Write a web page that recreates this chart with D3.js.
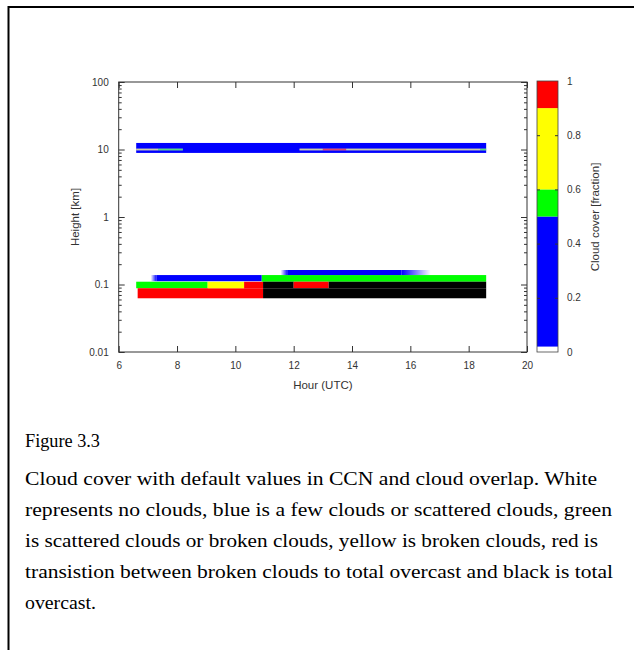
<!DOCTYPE html>
<html><head><meta charset="utf-8">
<script src="https://cdn.jsdelivr.net/npm/d3@7"></script>
<style>
body{margin:0;background:#fff;}
svg{display:block;}
.cap{font-family:"Liberation Serif","Times New Roman",serif;font-size:18px;fill:#000;}
.ax{font-family:"Liberation Sans",Arial,sans-serif;font-size:10px;fill:#333;}
.lab{font-family:"Liberation Sans",Arial,sans-serif;font-size:11.5px;fill:#333;}
</style>
</head><body>
<svg id="c" width="634" height="650"></svg>
<script>
// ---------- data ----------
const xTicks = [6, 8, 10, 12, 14, 16, 18, 20];
const yTicks = [0.01, 0.1, 1, 10, 100];
const yTickLabels = ["0.01", "0.1", "1", "10", "100"];
const cbTicks = [0, 0.2, 0.4, 0.6, 0.8, 1];
const cbTickLabels = ["0", "0.2", "0.4", "0.6", "0.8", "1"];
const cbBreaks = [0, 0.02, 0.5, 0.6, 0.9, 1];           // colour-bar class boundaries
const cbColors = ["#ffffff", "#0000ff", "#00ff00", "#ffff00", "#ff0000"];
const overcastColor = "#000000";                       // value >= 1 : total overcast

// cloud cells: start hour, end hour, bottom height (km), top height (km), cloud fraction
const cellStart  = [6.60, 6.60, 6.65, 9.05, 10.30, 10.90, 10.95, 7.30, 11.80, 12.00, 13.20, 10.95];
const cellEnd    = [18.60, 9.05, 10.95, 10.30, 10.95, 18.60, 12.00, 10.90, 15.70, 13.20, 18.60, 18.60];
const cellBottom = [8.9, 0.088, 0.0625, 0.088, 0.088, 0.110, 0.088, 0.112, 0.138, 0.088, 0.088, 0.0625];
const cellTop    = [12.5, 0.110, 0.088, 0.110, 0.110, 0.138, 0.110, 0.138, 0.164, 0.110, 0.110, 0.088];
const cellValue  = [0.30, 0.55, 0.95, 0.75, 0.95, 0.55, 1.00, 0.30, 0.30, 0.95, 1.00, 1.00];

// fading blue edges (value fades to no cloud): start, end, bottom, top, value, side that is cloudy
const fadeStart  = [7.10, 11.55, 15.70];
const fadeEnd    = [7.30, 11.80, 16.70];
const fadeBottom = [0.112, 0.138, 0.138];
const fadeTop    = [0.138, 0.164, 0.164];
const fadeValue  = [0.30, 0.30, 0.30];
const fadeSide   = ["right", "right", "left"];

// thin layer near 10 km
const thinStart  = [6.60, 7.35, 12.20, 13.00, 13.80, 18.40];
const thinEnd    = [7.35, 8.20, 13.00, 13.80, 18.40, 18.60];
const thinValue  = [0.75, 0.55, 0.75, 0.95, 0.75, 0.55];
const thinBottom = 9.7, thinTop = 10.3;

// ---------- drawing ----------
const svg = d3.select("#c");
const L = 118.7, R = 527, T = 82, B = 352;
const x = d3.scaleLinear().domain([6, 20]).range([L, R]);
const y = d3.scaleLog().domain([0.01, 100]).range([B, T]);
const color = v => v >= 1 ? overcastColor
  : d3.scaleThreshold().domain(cbBreaks.slice(1, -1)).range(cbColors)(v);

// page frame
svg.append("line").attr("x1", 8).attr("x2", 634).attr("y1", 7).attr("y2", 7).attr("stroke", "#000").attr("stroke-width", 2);
svg.append("line").attr("x1", 8.5).attr("x2", 8.5).attr("y1", 6).attr("y2", 650).attr("stroke", "#000").attr("stroke-width", 2);

const defs = svg.append("defs");
const plot = svg.append("g");

// cells
plot.selectAll("rect.cell").data(cellValue.map((v, i) => i)).join("rect")
  .attr("x", i => x(cellStart[i])).attr("width", i => x(cellEnd[i]) - x(cellStart[i]))
  .attr("y", i => y(cellTop[i])).attr("height", i => y(cellBottom[i]) - y(cellTop[i]))
  .attr("fill", i => color(cellValue[i]));

// fades
fadeValue.forEach((v, i) => {
  const id = "fade" + i;
  const g = defs.append("linearGradient").attr("id", id);
  const c = color(v);
  g.append("stop").attr("offset", 0).attr("stop-color", c).attr("stop-opacity", fadeSide[i] === "left" ? 1 : 0);
  g.append("stop").attr("offset", 1).attr("stop-color", c).attr("stop-opacity", fadeSide[i] === "left" ? 0 : 1);
  plot.append("rect")
    .attr("x", x(fadeStart[i])).attr("width", x(fadeEnd[i]) - x(fadeStart[i]))
    .attr("y", y(fadeTop[i])).attr("height", y(fadeBottom[i]) - y(fadeTop[i]))
    .attr("fill", `url(#${id})`);
});

// thin 10 km layer
const thin = plot.append("g");
thinValue.forEach((v, i) => {
  const xx = x(thinStart[i]), ww = x(thinEnd[i]) - x(thinStart[i]);
  const yy = y(thinTop), hh = y(thinBottom) - y(thinTop);
  thin.append("rect").attr("x", xx).attr("width", ww).attr("y", yy).attr("height", hh)
    .attr("fill", "#fff").attr("opacity", 0.7);
  thin.append("rect").attr("x", xx).attr("width", ww).attr("y", yy).attr("height", hh)
    .attr("fill", color(v)).attr("opacity", v > 0.9 ? 0.6 : (v < 0.6 ? 0.5 : 0.35));
});

// axes frame
svg.append("rect").attr("x", L).attr("y", T).attr("width", R - L).attr("height", B - T)
  .attr("fill", "none").attr("stroke", "#333").attr("stroke-width", 1);

const tickStyle = g => { g.select(".domain").remove(); g.selectAll("line").attr("stroke", "#333"); g.selectAll("text").attr("class", "ax").attr("fill", null); g.attr("font-family", null).attr("font-size", null); };

svg.append("g").attr("transform", `translate(0,${B})`)
  .call(d3.axisBottom(x).tickValues(xTicks).tickFormat(d3.format("d")).tickSize(-6).tickPadding(10))
  .call(tickStyle);
svg.append("g").attr("transform", `translate(0,${T})`)
  .call(d3.axisTop(x).tickValues(xTicks).tickFormat("").tickSize(-6))
  .call(tickStyle);

const minors = [];
for (let e = -2; e < 2; e++) for (let k = 2; k <= 9; k++) minors.push(k * Math.pow(10, e));
svg.append("g").attr("transform", `translate(${L},0)`)
  .call(d3.axisLeft(y).tickValues(yTicks).tickFormat((d, i) => yTickLabels[i]).tickSize(-6).tickPadding(10))
  .call(tickStyle);
svg.append("g").attr("transform", `translate(${L},0)`)
  .call(d3.axisLeft(y).tickValues(minors).tickFormat("").tickSize(-3))
  .call(tickStyle);
svg.append("g").attr("transform", `translate(${R},0)`)
  .call(d3.axisRight(y).tickValues(yTicks).tickFormat("").tickSize(-6))
  .call(tickStyle);
svg.append("g").attr("transform", `translate(${R},0)`)
  .call(d3.axisRight(y).tickValues(minors).tickFormat("").tickSize(-3))
  .call(tickStyle);

svg.append("text").attr("class", "lab").attr("x", (L + R) / 2).attr("y", 389)
  .attr("text-anchor", "middle").text("Hour (UTC)");
svg.append("text").attr("class", "lab").attr("transform", `translate(79,${(T + B) / 2}) rotate(-90)`)
  .attr("text-anchor", "middle").text("Height [km]");

// colour bar
const cbL = 537, cbR = 558;
const yc = d3.scaleLinear().domain([0, 1]).range([B, T - 1]);
svg.append("g").selectAll("rect").data(cbColors).join("rect")
  .attr("x", cbL).attr("width", cbR - cbL)
  .attr("y", (c, i) => yc(cbBreaks[i + 1])).attr("height", (c, i) => yc(cbBreaks[i]) - yc(cbBreaks[i + 1]))
  .attr("fill", c => c);
svg.append("rect").attr("x", cbL).attr("y", yc(1)).attr("width", cbR - cbL).attr("height", yc(0) - yc(1))
  .attr("fill", "none").attr("stroke", "#444").attr("stroke-width", 0.8);
svg.append("g").attr("transform", `translate(${cbL},0)`)
  .call(d3.axisLeft(yc).tickValues(cbTicks.slice(1, -1)).tickFormat("").tickSize(-3)).call(tickStyle);
svg.append("g").attr("transform", `translate(${cbR},0)`)
  .call(d3.axisRight(yc).tickValues(cbTicks.slice(1, -1)).tickFormat("").tickSize(-3)).call(tickStyle);
svg.append("g").selectAll("text").data(cbTicks).join("text").attr("class", "ax")
  .attr("x", 567).attr("y", d => yc(d) + 3.5).text((d, i) => cbTickLabels[i]);
svg.append("text").attr("class", "lab").attr("transform", `translate(599,${(T + B) / 2}) rotate(-90)`)
  .attr("text-anchor", "middle").text("Cloud cover [fraction]");

// caption
const caption = [
  "Figure 3.3",
  "Cloud cover with default values in CCN and cloud overlap. White",
  "represents no clouds, blue is a few clouds or scattered clouds, green",
  "is scattered clouds or broken clouds, yellow is broken clouds, red is",
  "transistion between broken clouds to total overcast and black is total",
  "overcast."
];
const capY = [447, 485, 516, 547, 578, 609];
const capW = [75, 572, 587, 573, 588, 71];
svg.append("g").selectAll("text").data(caption).join("text").attr("class", "cap")
  .attr("x", 25).attr("y", (d, i) => capY[i])
  .attr("textLength", (d, i) => capW[i]).attr("lengthAdjust", "spacingAndGlyphs")
  .text(d => d);
</script>
</body></html>
